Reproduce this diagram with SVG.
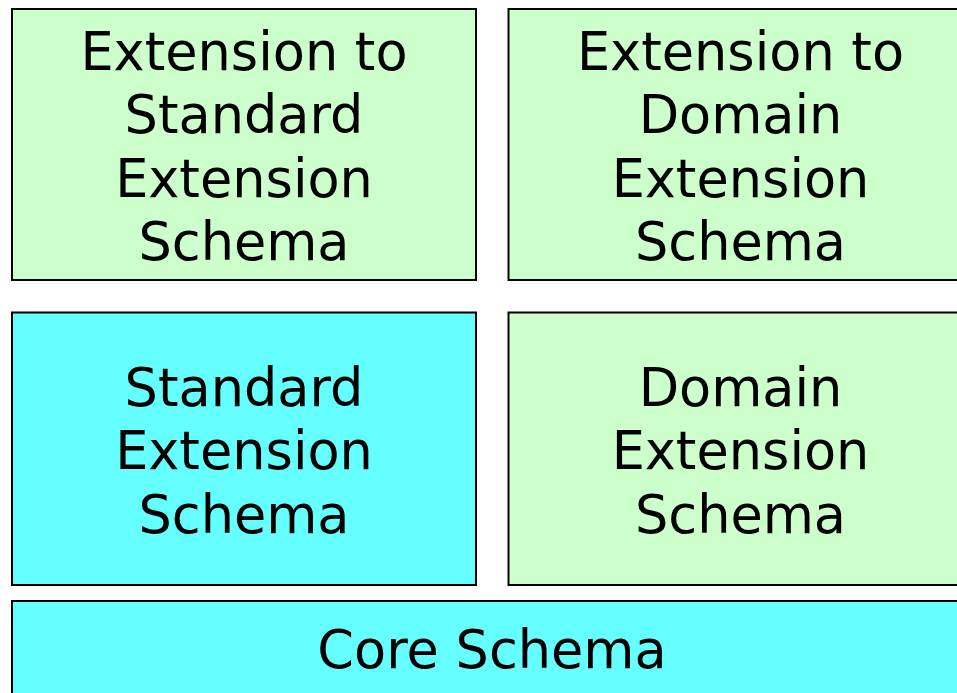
<svg xmlns="http://www.w3.org/2000/svg" width="957" height="693" viewBox="0 0 957 693">
  <style>
    .box { stroke: #000000; stroke-width: 2; }
    .green { fill: #CCFFCC; }
    .cyan { fill: #66FFFF; }
    .label { font-family: "DejaVu Sans", Verdana, sans-serif; font-size: 52.5px; fill: #000000; text-anchor: middle; }
  </style>
  <rect x="0" y="0" width="957" height="693" fill="#FFFFFF"/>

  <g id="ext-standard">
    <rect class="box green" x="12" y="9" width="464" height="271"/>
    <text class="label" x="244" y="70">Extension to</text>
    <text class="label" x="244" y="133">Standard</text>
    <text class="label" x="244" y="196.5">Extension</text>
    <text class="label" x="244" y="260">Schema</text>
  </g>

  <g id="ext-domain">
    <rect class="box green" x="508.5" y="9" width="464" height="271"/>
    <text class="label" x="740.5" y="70">Extension to</text>
    <text class="label" x="740.5" y="133">Domain</text>
    <text class="label" x="740.5" y="196.5">Extension</text>
    <text class="label" x="740.5" y="260">Schema</text>
  </g>

  <g id="standard">
    <rect class="box cyan" x="12" y="312.5" width="464" height="272.5"/>
    <text class="label" x="244" y="406">Standard</text>
    <text class="label" x="244" y="469">Extension</text>
    <text class="label" x="244" y="532.5">Schema</text>
  </g>

  <g id="domain">
    <rect class="box green" x="508.5" y="312.5" width="464" height="272.5"/>
    <text class="label" x="740.5" y="406">Domain</text>
    <text class="label" x="740.5" y="469">Extension</text>
    <text class="label" x="740.5" y="532.5">Schema</text>
  </g>

  <g id="core">
    <rect class="box cyan" x="12" y="601" width="960" height="110"/>
    <text class="label" x="492" y="668">Core Schema</text>
  </g>

  <g id="connectors"></g>
</svg>
